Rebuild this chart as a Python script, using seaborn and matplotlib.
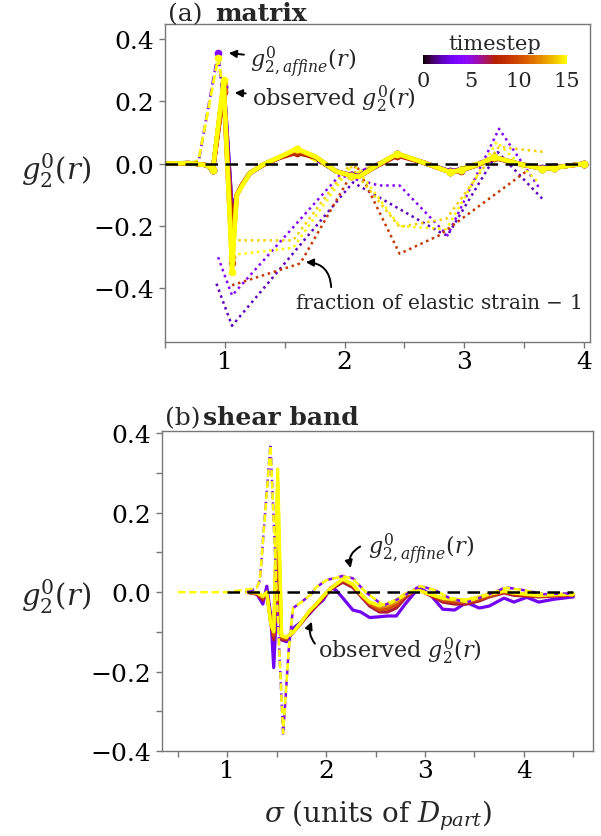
import matplotlib
matplotlib.use("Agg")
import matplotlib.pyplot as plt
import pandas as pd
import seaborn as sns
from matplotlib.colors import Normalize
from matplotlib.cm import ScalarMappable

# ---------------- data: panel (a) matrix ----------------
R_A_OBS = [0.5, 0.7, 0.85, 0.9, 0.99, 1.06, 1.1, 1.14, 1.21, 1.32, 1.45, 1.6, 1.76, 1.93,
           2.05, 2.12, 2.25, 2.44, 2.65, 2.88, 2.97, 3.1, 3.25, 3.45, 3.65, 3.75, 4.0]
OBS_A_T1 = [0, 0.002, -0.005, -0.02, 0.246, -0.165, -0.1, -0.07, -0.03, -0.004, 0.018, 0.04, 0.02,
            -0.025, -0.036, -0.04, -0.01, 0.03, 0.005, -0.025, -0.02, -0.005, 0.02, 0.0, -0.015, -0.012, 0.0]
OBS_A_T4 = [0, 0.002, -0.005, -0.02, 0.25, -0.17, -0.1, -0.07, -0.03, -0.004, 0.018, 0.042, 0.02,
            -0.025, -0.037, -0.04, -0.01, 0.03, 0.005, -0.025, -0.02, -0.005, 0.02, 0.0, -0.015, -0.012, 0.0]
OBS_A_T8 = [0, 0.002, -0.005, -0.02, 0.23, -0.204, -0.1, -0.07, -0.03, -0.004, 0.018, 0.035, 0.02,
            -0.025, -0.038, -0.042, -0.012, 0.026, 0.004, -0.027, -0.023, -0.006, 0.018, 0.0, -0.016, -0.013, 0.0]
OBS_A_T11 = [0, 0.002, -0.005, -0.02, 0.235, -0.32, -0.1, -0.07, -0.03, -0.003, 0.019, 0.045, 0.021,
             -0.025, -0.038, -0.042, -0.01, 0.031, 0.005, -0.027, -0.021, -0.005, 0.021, 0.0, -0.016, -0.013, 0.0]
OBS_A_T13 = [0, 0.002, -0.005, -0.02, 0.26, -0.30, -0.1, -0.07, -0.03, -0.003, 0.02, 0.047, 0.022,
             -0.025, -0.038, -0.042, -0.01, 0.032, 0.005, -0.027, -0.021, -0.005, 0.021, 0.0, -0.016, -0.013, 0.0]
OBS_A_T15 = [0, 0.002, -0.005, -0.02, 0.27, -0.348, -0.1, -0.075, -0.03, -0.003, 0.02, 0.048, 0.022,
             -0.025, -0.038, -0.042, -0.01, 0.032, 0.005, -0.027, -0.021, -0.005, 0.021, 0.0, -0.016, -0.013, 0.0]

R_A_AFF = [0.5, 0.7, 0.78, 0.944, 1.0, 1.06, 1.1, 1.21, 1.32, 1.6, 1.93, 2.05, 2.44, 2.88, 3.25, 3.65, 4.0]
AFF_A_T4 = [0, 0, 0.005, 0.356, 0.15, -0.30, -0.1, -0.03, -0.003, 0.045, -0.025, -0.04, 0.03, -0.025, 0.02, -0.015, 0]
AFF_A_T15 = [0, 0, 0.01, 0.34, 0.20, -0.33, -0.1, -0.03, -0.003, 0.042, -0.025, -0.04, 0.03, -0.025, 0.02, -0.015, 0]

FR_R_T2 = [0.93, 1.06, 2.07, 2.82, 2.86, 3.28, 3.65]
FR_Y_T2 = [-0.385, -0.52, -0.06, -0.225, -0.23, 0.037, -0.112]
FR_R_T4 = [0.944, 1.06, 1.96, 2.29, 2.46, 2.86, 3.29, 3.63]
FR_Y_T4 = [-0.30, -0.423, -0.037, -0.07, -0.07, -0.23, 0.112, -0.08]
FR_R_T9 = [1.06, 1.63, 2.1, 2.46, 2.79, 3.51]
FR_Y_T9 = [-0.39, -0.32, -0.005, -0.289, -0.23, -0.027]
FR_R_T14 = [1.06, 1.57, 2.04, 2.46, 2.85, 3.29, 3.68]
FR_Y_T14 = [-0.246, -0.246, -0.005, -0.203, -0.177, 0.054, 0.037]
FR_R_T15 = [1.06, 1.57, 2.07, 2.46, 2.85, 3.27, 3.62]
FR_Y_T15 = [-0.293, -0.27, 0.0, -0.2, -0.21, 0.07, -0.06]

# ---------------- data: panel (b) shear band ----------------
R_B_OBS = [1.2, 1.3, 1.36, 1.40, 1.44, 1.47, 1.51, 1.55, 1.6, 1.67, 1.75, 1.83, 1.9, 1.97, 2.05,
           2.1, 2.17, 2.27, 2.35, 2.44, 2.54, 2.62, 2.71, 2.8, 2.9, 2.95, 3.05, 3.18, 3.3, 3.42,
           3.55, 3.65, 3.8, 3.9, 4.03, 4.15, 4.3, 4.5]
OBS_B_T3 = [0, -0.005, -0.03, 0.015, -0.06, -0.19, 0.02, -0.12, -0.125, -0.09, -0.075, -0.055, -0.035,
            -0.02, 0.012, 0.005, -0.015, -0.045, -0.05, -0.064, -0.062, -0.06, -0.06, -0.03, 0.0,
            0.01, -0.005, -0.043, -0.045, -0.026, -0.04, -0.035, -0.015, -0.025, -0.013, -0.025, -0.018, -0.012]
OBS_B_T7 = [0, -0.005, -0.02, 0.0, -0.07, -0.12, 0.03, -0.12, -0.12, -0.1, -0.078, -0.052, -0.035,
            -0.015, 0.008, 0.015, 0.025, 0.012, -0.01, -0.035, -0.05, -0.05, -0.04, -0.015, 0.005,
            0.004, -0.008, -0.025, -0.03, -0.03, -0.022, -0.012, -0.002, -0.008, -0.01, -0.012, -0.01, -0.008]
OBS_B_T10 = [0, -0.004, -0.015, 0.0, -0.08, -0.11, 0.08, -0.115, -0.118, -0.1, -0.076, -0.05, -0.032,
             -0.012, 0.01, 0.018, 0.03, 0.016, -0.006, -0.03, -0.045, -0.042, -0.032, -0.01, 0.004,
             0.004, -0.006, -0.02, -0.025, -0.026, -0.018, -0.01, 0.0, -0.005, -0.008, -0.01, -0.008, -0.006]
OBS_B_T12 = [0, -0.003, -0.012, 0.0, -0.08, -0.1, 0.22, -0.11, -0.115, -0.1, -0.075, -0.048, -0.03,
             -0.01, 0.01, 0.02, 0.032, 0.018, -0.005, -0.027, -0.038, -0.035, -0.025, -0.006, 0.003,
             0.003, -0.005, -0.017, -0.02, -0.022, -0.014, -0.006, 0.002, -0.003, -0.006, -0.009, -0.007, -0.005]
OBS_B_T14 = [0, -0.002, -0.01, 0.0, -0.08, -0.1, 0.28, -0.11, -0.114, -0.1, -0.075, -0.047, -0.03,
             -0.01, 0.01, 0.02, 0.033, 0.02, -0.005, -0.025, -0.034, -0.03, -0.02, -0.005, 0.003,
             0.003, -0.005, -0.015, -0.018, -0.02, -0.012, -0.005, 0.003, -0.002, -0.005, -0.008, -0.006, -0.005]
OBS_B_T15 = [0, 0.0, -0.01, 0.0, -0.08, -0.1, 0.31, -0.11, -0.114, -0.1, -0.075, -0.047, -0.03,
             -0.01, 0.01, 0.02, 0.033, 0.02, -0.005, -0.025, -0.034, -0.03, -0.02, -0.005, 0.003,
             0.003, -0.005, -0.015, -0.018, -0.02, -0.012, -0.005, 0.003, -0.002, -0.005, -0.008, -0.006, -0.005]

R_B_AFF_T4 = [1.2, 1.296, 1.33, 1.437, 1.5, 1.565, 1.62, 1.665, 1.75, 1.85, 1.9, 2.0, 2.17, 2.27,
              2.4, 2.58, 2.75, 2.95, 3.1, 3.25, 3.42, 3.6, 3.82, 4.0, 4.2, 4.5]
AFF_B_T4 = [0, 0.01, 0.03, 0.373, 0.0, -0.36, -0.15, -0.04, -0.025, -0.005, 0.012, 0.03, 0.041, 0.035,
            0.0, -0.034, -0.015, 0.016, 0.005, -0.015, -0.026, -0.01, 0.012, 0.005, -0.005, -0.003]
R_B_AFF_T15 = [0.5, 1.0, 1.296, 1.33, 1.437, 1.5, 1.565, 1.62, 1.665, 1.75, 1.85, 1.9, 2.0, 2.17, 2.27,
               2.4, 2.58, 2.75, 2.95, 3.1, 3.25, 3.42, 3.6, 3.82, 4.0, 4.2, 4.5]
AFF_B_T15 = [0, 0, 0.01, 0.03, 0.37, 0.0, -0.355, -0.15, -0.04, -0.025, -0.005, 0.012, 0.03, 0.04, 0.034,
             0.0, -0.033, -0.015, 0.015, 0.005, -0.015, -0.025, -0.01, 0.011, 0.005, -0.005, -0.008]

ZERO_A = [0.5, 4.0]
ZERO_B = [1.0, 4.5]
CBAR_TICKS = [0, 5, 10, 15]

# indices of the observed (a) samples that carry a visible marker
OBS_A_MARKED = [3, 4, 5, 11, 14, 17, 19, 20, 22, 24, 25, 26]


def long_df(series):
    rows = []
    for t, (rs, ys) in series.items():
        for x, y in zip(rs, ys):
            rows.append((x, y, t))
    return pd.DataFrame(rows, columns=["r", "g", "timestep"])


obs_a = long_df({1: (R_A_OBS, OBS_A_T1), 4: (R_A_OBS, OBS_A_T4), 8: (R_A_OBS, OBS_A_T8),
                 11: (R_A_OBS, OBS_A_T11), 13: (R_A_OBS, OBS_A_T13), 15: (R_A_OBS, OBS_A_T15)})
aff_a = long_df({4: (R_A_AFF, AFF_A_T4), 15: (R_A_AFF, AFF_A_T15)})
fr_a = long_df({2: (FR_R_T2, FR_Y_T2), 4: (FR_R_T4, FR_Y_T4), 9: (FR_R_T9, FR_Y_T9),
                14: (FR_R_T14, FR_Y_T14), 15: (FR_R_T15, FR_Y_T15)})
obs_b = long_df({3: (R_B_OBS, OBS_B_T3), 7: (R_B_OBS, OBS_B_T7), 10: (R_B_OBS, OBS_B_T10),
                 12: (R_B_OBS, OBS_B_T12), 14: (R_B_OBS, OBS_B_T14), 15: (R_B_OBS, OBS_B_T15)})
aff_b = long_df({4: (R_B_AFF_T4, AFF_B_T4), 15: (R_B_AFF_T15, AFF_B_T15)})

sns.set_style("ticks")
plt.rcParams["font.family"] = ["DejaVu Serif"]
plt.rcParams["mathtext.fontset"] = "dejavuserif"
plt.rcParams["axes.edgecolor"] = "#777777"
plt.rcParams["axes.linewidth"] = 1.0

CMAP = "gnuplot"
HNORM = (0, 15)

fig = plt.figure(figsize=(6.01, 8.37), dpi=100)
ax1 = fig.add_axes([0.2745, 0.5906, 0.7072, 0.3795])
ax2 = fig.add_axes([0.2696, 0.1016, 0.7171, 0.3823])

common = dict(x="r", y="g", hue="timestep", palette=CMAP, hue_norm=HNORM, units="timestep",
              estimator=None, legend=False)

# panel a
sns.lineplot(data=fr_a, ax=ax1, linestyle=(0, (1, 1.5)), lw=1.8, **common)
sns.lineplot(data=aff_a, ax=ax1, linestyle=(0, (3, 1.5)), lw=2.0, marker="o", markersize=5.5,
             markeredgewidth=0, markevery=[3], **common)
sns.lineplot(data=obs_a, ax=ax1, lw=3.2, marker="o", markersize=5.5, markeredgewidth=0,
             markevery=OBS_A_MARKED, **common)
sns.lineplot(x=ZERO_A, y=[0, 0], ax=ax1, color="black", lw=1.8, linestyle=(0, (5, 3)), zorder=5)

# panel b
sns.lineplot(data=obs_b, ax=ax2, lw=2.3, **common)
sns.lineplot(data=aff_b, ax=ax2, linestyle=(0, (3, 1.5)), lw=1.8, **common)
sns.lineplot(x=ZERO_B, y=[0, 0], ax=ax2, color="black", lw=1.8, linestyle=(0, (5, 3)), zorder=5)

for ax in (ax1, ax2):
    ax.set_xlabel("")
    ax.set_ylabel(r"$g_2^0(r)$", rotation=0, fontsize=21, va="center", ha="center")
    ax.tick_params(which="both", direction="out", length=4, width=1, colors="#777777",
                   labelcolor="black", labelsize=18)
    ax.tick_params(axis="x", which="both", pad=2)
    for s in ax.spines.values():
        s.set_visible(True)
        s.set_color("#777777")

ax1.set_xlim(0.5, 4.05)
ax1.set_ylim(-0.571, 0.448)
ax1.set_xticks([1, 2, 3, 4])
ax1.set_xticks([0.5, 1.5, 2.5, 3.5], minor=True)
ax1.set_yticks([-0.4, -0.2, 0.0, 0.2, 0.4])
ax1.yaxis.set_label_coords(-0.256, 0.54)

ax2.set_xlim(0.34, 4.7)
ax2.set_ylim(-0.4, 0.406)
ax2.set_xticks([1, 2, 3, 4])
ax2.set_xticks([0.5, 1.5, 2.5, 3.5, 4.5], minor=True)
ax2.set_yticks([-0.4, -0.2, 0.0, 0.2, 0.4])
ax2.set_yticks([-0.3, -0.1, 0.1, 0.3], minor=True)
ax2.yaxis.set_label_coords(-0.246, 0.485)
ax2.set_xlabel(r"$\sigma$ (units of $D_{part}$)", fontsize=20, labelpad=11)

# panel titles
fig.text(168 / 601, 1 - 21 / 837, "(a)", fontsize=18, ha="left", va="baseline")
fig.text(215 / 601, 1 - 21 / 837, "matrix", fontsize=18, fontweight="bold", ha="left", va="baseline")
fig.text(165 / 601, 1 - 425 / 837, "(b)", fontsize=18, ha="left", va="baseline")
fig.text(203 / 601, 1 - 425 / 837, "shear band", fontsize=18, fontweight="bold", ha="left", va="baseline")

# annotations panel a
arrow = dict(arrowstyle="-|>", color="black", lw=1.4, mutation_scale=11)
ax1.annotate(r"$g^0_{2,affine}(r)$", xy=(1.01, 0.356), xytext=(1.21, 0.329), fontsize=16,
             ha="left", va="center", arrowprops=arrow)
ax1.annotate(r"observed $g^0_2(r)$", xy=(1.06, 0.228), xytext=(1.225, 0.209), fontsize=16,
             ha="left", va="center", arrowprops=arrow)
ax1.text(1.583, -0.446, r"fraction of elastic strain $-$ 1", fontsize=14.5, ha="left", va="center")
ax1.annotate("", xy=(1.653, -0.316), xytext=(1.889, -0.405),
             arrowprops=dict(arrowstyle="-|>", color="black", lw=1.4, mutation_scale=11,
                             connectionstyle="arc3,rad=0.5"))

# annotations panel b
ax2.text(2.424, 0.111, r"$g^0_{2,affine}(r)$", fontsize=16, ha="left", va="center")
ax2.annotate("", xy=(2.256, 0.054), xytext=(2.37, 0.118),
             arrowprops=dict(arrowstyle="-|>", color="black", lw=1.4, mutation_scale=11,
                             connectionstyle="arc3,rad=0.45"))
ax2.text(1.919, -0.147, r"observed $g^0_2(r)$", fontsize=16, ha="left", va="center")
ax2.annotate("", xy=(1.868, -0.068), xytext=(1.905, -0.135),
             arrowprops=dict(arrowstyle="-|>", color="black", lw=1.4, mutation_scale=11,
                             connectionstyle="arc3,rad=-0.35"))

# colorbar inset
cax = fig.add_axes([423 / 601, 1 - 65 / 837, 144 / 601, 9 / 837])
sm = ScalarMappable(norm=Normalize(*HNORM), cmap=CMAP)
cb = fig.colorbar(sm, cax=cax, orientation="horizontal", ticks=CBAR_TICKS)
cb.outline.set_visible(False)
cax.tick_params(length=0, labelsize=15, pad=5)
cax.xaxis.set_label_position("top")
cb.set_label("timestep", fontsize=15, labelpad=4)

fig.savefig("out.png", dpi=100)
